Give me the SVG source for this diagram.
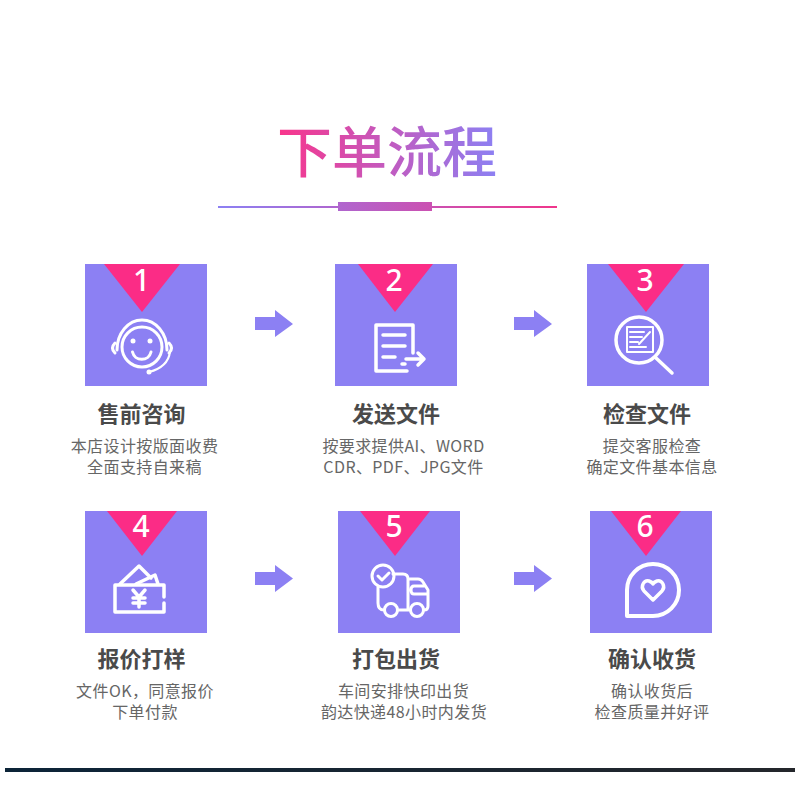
<svg xmlns="http://www.w3.org/2000/svg" width="800" height="800" viewBox="0 0 800 800">
<style>
.cjk{font-family:"Noto Sans CJK SC","Noto Sans",sans-serif;text-anchor:middle}
.title{font-size:55px;font-weight:500}
.h{font-size:22px;font-weight:700;fill:#4a4a4a}
.s{font-size:16px;fill:#666;letter-spacing:.4px}
.n{font-family:"Noto Sans",sans-serif;font-size:30px;font-weight:500;fill:#fff;text-anchor:middle}
.box{fill:#8c80f3}
.tri{fill:#fb2c86}
.ic{fill:none;stroke:#fff;stroke-width:3;stroke-linecap:round;stroke-linejoin:round}
.thin{stroke-width:2}
.wide{stroke-width:3.500}
.dot{fill:#fff}
.arr{fill:#8c80f3}
</style>
<defs>
<linearGradient id="tg" gradientUnits="userSpaceOnUse" x1="278" y1="0" x2="497" y2="0"><stop offset="0" stop-color="#f9358b"/><stop offset="1" stop-color="#8c80f3"/></linearGradient>
<linearGradient id="lg" gradientUnits="userSpaceOnUse" x1="218" y1="0" x2="557" y2="0"><stop offset="0" stop-color="#8c80f3"/><stop offset="1" stop-color="#f0358b"/></linearGradient>
<linearGradient id="fg" x1="0" y1="0" x2="1" y2="0"><stop offset="0" stop-color="#0c2438"/><stop offset="1" stop-color="#24262b"/></linearGradient>
</defs>
<rect width="800" height="800" fill="#fff"/>
<g id="header">
<text class="cjk title" x="387" y="172" fill="url(#tg)">下单流程</text>
<rect x="218" y="206" width="339" height="2" fill="url(#lg)"/>
<rect x="338" y="202" width="94" height="9" fill="url(#lg)"/>
</g>
<g id="connectors">
<path class="arr" d="M255 317H275V310L293 324 275 337V330H255Z"/>
<path class="arr" d="M514 317H534V310L552 324 534 337V330H514Z"/>
<path class="arr" d="M255 572H275V565L293 578.500 275 592V585H255Z"/>
<path class="arr" d="M514 572H534V565L552 578.500 534 592V585H514Z"/>
</g>
<g id="node1">
<rect class="box" x="85" y="264" width="122" height="122"/>
<path class="tri" d="M104 264H180L142 312Z"/>
<text class="n" x="141.500" y="291">1</text>
<circle class="ic" cx="142" cy="347" r="20"/>
<path class="ic" d="M117 350A25 30 0 0 1 167 350"/>
<path class="ic" d="M115 343Q110 348 115 353M169 343Q174 348 169 353"/>
<path class="ic thin" d="M170 352Q168 367 149 372"/>
<circle class="dot" cx="149" cy="372" r="2.500"/>
<circle class="dot" cx="133" cy="341" r="2.500"/>
<circle class="dot" cx="150" cy="341" r="2.500"/>
<path class="ic" d="M132.500 352A9.500 9.500 0 0 0 151 352"/>
<text class="cjk h" x="141.500" y="422">售前咨询</text>
<text class="cjk s" x="144.500" y="452">本店设计按版面收费</text>
<text class="cjk s" x="144.500" y="473">全面支持自来稿</text>
</g>
<g id="node2">
<rect class="box" x="335" y="264" width="122" height="122"/>
<path class="tri" d="M358 264H433L395 312Z"/>
<text class="n" x="394" y="291">2</text>
<path class="ic wide" d="M407 371H376V325H413V353"/>
<path class="ic wide" d="M383 335H405M383 346H405M383 357H395M402 364H405M406 359H424M418 353L424 359 418 365"/>
<text class="cjk h" x="396" y="422">发送文件</text>
<text class="cjk s" x="403.500" y="452">按要求提供AI、WORD</text>
<text class="cjk s" x="403.500" y="473">CDR、PDF、JPG文件</text>
</g>
<g id="node3">
<rect class="box" x="587" y="264" width="122" height="122"/>
<path class="tri" d="M608 264H684L646 312Z"/>
<text class="n" x="645" y="291">3</text>
<circle class="ic wide" cx="639" cy="340" r="23"/>
<path class="ic wide" d="M656 358L672 373"/>
<rect class="ic thin" x="627" y="327" width="26" height="25"/>
<path class="ic thin" d="M630 332H644M630 337H642M630 342H638M630 347H646M639 344L650 332"/>
<text class="cjk h" x="647" y="422">检查文件</text>
<text class="cjk s" x="652" y="452">提交客服检查</text>
<text class="cjk s" x="652" y="473">确定文件基本信息</text>
</g>
<g id="node4">
<rect class="box" x="85" y="511" width="122" height="122"/>
<path class="tri" d="M107 511H177L142 556Z"/>
<text class="n" x="141" y="537">4</text>
<path class="ic wide" d="M164 597V585H115V612H164V603"/>
<path class="ic wide" d="M120 584L139 566 151 578M136 584L155 575 158 584"/>
<path class="ic wide" d="M133 590L139 597 145 590M139 597V607M133 598H145M133 603H145"/>
<text class="cjk h" x="141.500" y="667">报价打样</text>
<text class="cjk s" x="145" y="697">文件OK，同意报价</text>
<text class="cjk s" x="145" y="718">下单付款</text>
</g>
<g id="node5">
<rect class="box" x="338" y="511" width="122" height="122"/>
<path class="tri" d="M360 511H430L395 556Z"/>
<text class="n" x="394" y="537">5</text>
<circle class="ic" cx="383" cy="576" r="11"/>
<path class="ic" d="M378 576L382 580 389 573"/>
<path class="ic" d="M378 587V603Q378 610 384 610M398 610H410M393 574H403Q408 574 408 579V610M408 579H418Q421 579 423 582L428 590V606Q428 610 424 610M424 586H414Q411 586 411 590 411 594 414 594H428"/>
<circle class="ic" cx="391" cy="610" r="6.500"/>
<circle class="ic" cx="417" cy="610" r="6.500"/>
<text class="cjk h" x="396" y="667">打包出货</text>
<text class="cjk s" x="403.500" y="697">车间安排快印出货</text>
<text class="cjk s" x="404" y="718">韵达快递48小时内发货</text>
</g>
<g id="node6">
<rect class="box" x="590" y="511" width="122" height="122"/>
<path class="tri" d="M611 511H681L646 556Z"/>
<text class="n" x="645" y="537">6</text>
<path class="ic" style="stroke-width:4" d="M627 616V590A26 26 0 1 1 653 616Z"/>
<path class="ic wide" d="M653 600L644 591C640 586 644 580 649 581Q652 582 653 584 654 582 657 581C662 580 666 586 662 591Z"/>
<text class="cjk h" x="652" y="667">确认收货</text>
<text class="cjk s" x="652" y="697">确认收货后</text>
<text class="cjk s" x="652" y="718">检查质量并好评</text>
</g>
<rect id="footer" x="5" y="768" width="790" height="4" fill="url(#fg)"/>
</svg>
